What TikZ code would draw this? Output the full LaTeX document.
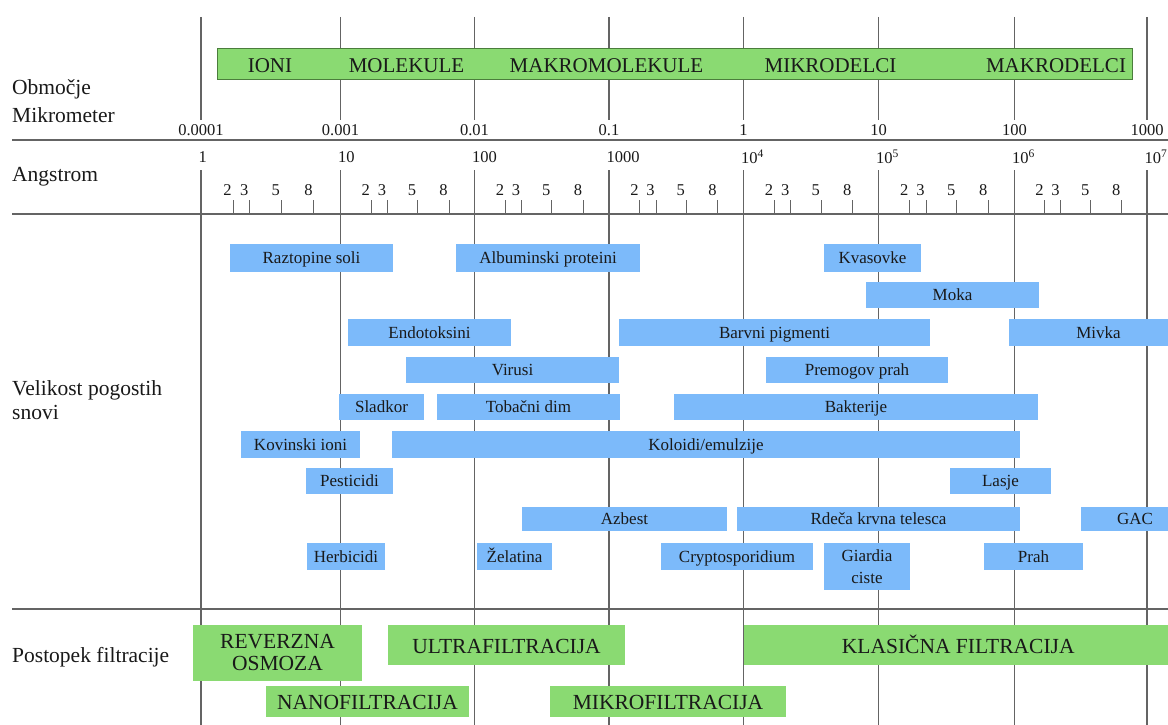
\documentclass[tikz,border=0pt]{standalone}
\usepackage{fontspec}
\setmainfont{Liberation Serif}
\definecolor{barblue}{RGB}{124,186,250}
\definecolor{procgreen}{RGB}{138,218,114}
\definecolor{bandedge}{RGB}{75,125,60}
\definecolor{gridgray}{RGB}{100,100,100}
\definecolor{ink}{RGB}{25,25,25}

% box spanning (x1,y1)-(x2,y2): style, name, x1, y1, x2, y2, text
\newcommand\spanbox[7]{%
  \node[#1, minimum width={(#5)-(#3)}, minimum height={(#6)-(#4)}]
    (#2) at ({((#3)+(#5))/2},{((#4)+(#6))/2}) {#7};}

\begin{document}
\begin{tikzpicture}[x=1pt,y=-1pt,
  gridline/.style={draw=gridgray, line width=1.2pt},
  tickline/.style={draw=gridgray, line width=1pt},
  rowlabel/.style={anchor=west, inner sep=0, text=ink, align=left,
    font=\fontsize{21.5}{24}\selectfont},
  numlabel/.style={inner sep=0, text=ink, font=\fontsize{16.5}{18}\selectfont},
  ticklabel/.style={inner sep=0, text=ink, font=\fontsize{16.5}{18}\selectfont},
  barbase/.style={fill=barblue, draw=none, inner sep=0, outer sep=0, text=ink,
    font=\fontsize{17}{22}\selectfont},
  bluebar/.style={barbase, text height=12pt, text depth=0.5pt},
  bluebartwo/.style={barbase, align=center},
  procbase/.style={fill=procgreen, draw=none, inner sep=0, outer sep=0, text=ink,
    font=\fontsize{21.5}{22}\selectfont},
  procbox/.style={procbase, text height=16pt, text depth=0pt},
  procboxtwo/.style={procbase, align=center},
  bandbox/.style={fill=procgreen, draw=bandedge, line width=1pt, inner sep=0},
  bandtext/.style={inner sep=0, text=ink, font=\fontsize{21}{22}\selectfont,
    text height=16pt, text depth=0pt},
]
\useasboundingbox (0,0) rectangle (1168,725);
\clip (0,0) rectangle (1168,725);

% horizontal rules
\draw[gridline] (12,140) -- (1168,140);
\draw[gridline] (12,214) -- (1168,214);
\draw[gridline] (12,609) -- (1168,609);

% decade lines
\foreach \x in {201,340.5,474.5,609,743.5,878.5,1014.5,1147} {
  \draw[gridline] (\x,17) -- (\x,120);
  \draw[gridline] (\x,170) -- (\x,725);
}

% micrometer scale
\foreach \x/\t [count=\i] in {201/0.0001,340.5/0.001,474.5/0.01,609/0.1,
    743.5/1,878.5/10,1014.5/100,1147/1000}
  \node[numlabel] (um\i) at (\x,130) {\t};

% angstrom scale
\foreach \x/\t [count=\i] in {201/1,340.5/10,474.5/100,609/1000,
    743.5/10\textsuperscript{4},878.5/10\textsuperscript{5},
    1014.5/10\textsuperscript{6},1147/10\textsuperscript{7}}
  \node[numlabel, anchor=west] (ang\i) at (\x-2.5,157) {\t};

% minor ticks 2,3,5,8 inside each decade
\foreach \a/\b [count=\i] in {201/340.5,340.5/474.5,474.5/609,609/743.5,
    743.5/878.5,878.5/1014.5,1014.5/1147} {
  \foreach \f/\t in {0.23/2,0.35/3,0.575/5,0.81/8} {
    \draw[tickline] ({\a+\f*(\b-\a)},200) -- ({\a+\f*(\b-\a)},214);
    \node[ticklabel] (tick\i-\t) at ({\a+\f*(\b-\a)-5.5},190.5) {\t};
  }
}

% row captions
\node[rowlabel] (capRange) at (12,101) {Območje\\[4pt]Mikrometer};
\node[rowlabel] (capAng) at (12,177) {Angstrom};
\node[rowlabel] (capSize) at (12,400) {Velikost pogostih\\snovi};
\node[rowlabel] (capProc) at (12,657) {Postopek filtracije};

% size class band
\spanbox{bandbox}{band}{217}{49}{1132}{80}{}
\node[bandtext] (bIoni) at (270,65) {IONI};
\node[bandtext] (bMol) at (406.5,65) {MOLEKULE};
\node[bandtext] (bMakMol) at (606.5,65) {MAKROMOLEKULE};
\node[bandtext] (bMik) at (830.5,65) {MIKRODELCI};
\node[bandtext] (bMak) at (1056,65) {MAKRODELCI};

% common substances
\spanbox{bluebar}{raztopine}{230}{244}{393}{272}{Raztopine soli}
\spanbox{bluebar}{albumin}{456}{244}{640}{272}{Albuminski proteini}
\spanbox{bluebar}{kvasovke}{824}{244}{921}{272}{Kvasovke}
\spanbox{bluebar}{moka}{866}{282}{1039}{308}{Moka}
\spanbox{bluebar}{endotoksini}{348}{319}{511}{346}{Endotoksini}
\spanbox{bluebar}{barvni}{619}{319}{930}{346}{Barvni pigmenti}
\spanbox{bluebar}{mivka}{1009}{319}{1188}{346}{Mivka}
\spanbox{bluebar}{virusi}{406}{357}{619}{383}{Virusi}
\spanbox{bluebar}{premogov}{766}{357}{948}{383}{Premogov prah}
\spanbox{bluebar}{sladkor}{339}{394}{424}{420}{Sladkor}
\spanbox{bluebar}{tobacni}{437}{394}{620}{420}{Tobačni dim}
\spanbox{bluebar}{bakterije}{674}{394}{1038}{420}{Bakterije}
\spanbox{bluebar}{kovinski}{241}{431}{360}{458}{Kovinski ioni}
\spanbox{bluebar}{koloidi}{392}{431}{1020}{458}{Koloidi/emulzije}
\spanbox{bluebar}{pesticidi}{306}{468}{393}{494}{Pesticidi}
\spanbox{bluebar}{lasje}{950}{468}{1051}{494}{Lasje}
\spanbox{bluebar}{azbest}{522}{507}{727}{531}{Azbest}
\spanbox{bluebar}{rdeca}{737}{507}{1020}{531}{Rdeča krvna telesca}
\spanbox{bluebar}{gac}{1081}{507}{1189}{531}{GAC}
\spanbox{bluebar}{herbicidi}{307}{543}{385}{570}{Herbicidi}
\spanbox{bluebar}{zelatina}{477}{543}{552}{570}{Želatina}
\spanbox{bluebar}{crypto}{661}{543}{813}{570}{Cryptosporidium}
\spanbox{bluebartwo}{giardia}{824}{543}{910}{590}{Giardia\\ciste}
\spanbox{bluebar}{prah}{984}{543}{1083}{570}{Prah}

% filtration processes
\spanbox{procboxtwo}{ro}{193}{625}{362}{681}{REVERZNA\\OSMOZA}
\spanbox{procbox}{uf}{388}{625}{625}{665}{ULTRAFILTRACIJA}
\spanbox{procbox}{klas}{743.5}{625}{1173}{665}{KLASIČNA FILTRACIJA}
\spanbox{procbox}{nf}{266}{686}{469}{717}{NANOFILTRACIJA}
\spanbox{procbox}{mf}{550}{686}{786}{717}{MIKROFILTRACIJA}
\end{tikzpicture}
\end{document}
